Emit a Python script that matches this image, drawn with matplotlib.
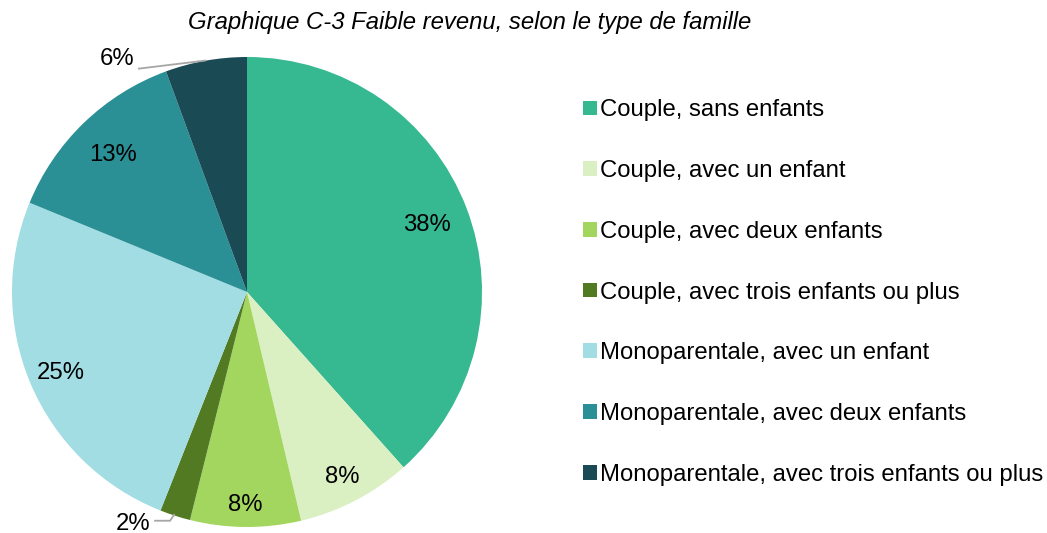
import numpy as np
import matplotlib
matplotlib.use("Agg")
import matplotlib.pyplot as plt
from matplotlib.patches import Patch

plt.rcParams['font.family'] = ['Liberation Sans', 'DejaVu Sans']

title = "Graphique C-3 Faible revenu, selon le type de famille"
categories = ["Couple, sans enfants", "Couple, avec un enfant", "Couple, avec deux enfants",
              "Couple, avec trois enfants ou plus", "Monoparentale, avec un enfant",
              "Monoparentale, avec deux enfants", "Monoparentale, avec trois enfants ou plus"]
values = [38.4, 7.9, 7.6, 2.1, 25.2, 13.2, 5.6]
colors = ["#36B890", "#DAF0C2", "#A3D65F", "#527A22", "#A1DDE3", "#2A9096", "#1A4B54"]

W, H = 1047, 533
fig = plt.figure(figsize=(W/100, H/100), dpi=100)
ax = fig.add_axes([0, 0, 1, 1])

cx, cy, R = 247, H - 292, 235
wedges, _ = ax.pie(values, colors=colors, startangle=90, counterclock=False,
                   radius=R, center=(cx, cy), frame=True,
                   wedgeprops=dict(linewidth=0))
ax.set_xlim(0, W)
ax.set_ylim(0, H)
ax.set_aspect('equal')
ax.axis('off')

fs = 17.2
total = sum(values)
start = 90.0
label_r = [0.82, 0.88, 0.9, None, 0.86, 0.82, None]
for i, v in enumerate(values):
    mid = start - v / total * 360 / 2
    start -= v / total * 360
    a = np.deg2rad(mid)
    txt = f"{round(v):.0f}%"
    if label_r[i] is not None:
        ax.text(cx + label_r[i] * R * np.cos(a), cy - 2 + label_r[i] * R * np.sin(a), txt,
                ha='center', va='center', fontsize=fs, color='#000000')
    else:
        ex, ey = cx + R * np.cos(a), cy + R * np.sin(a)
        if i == 3:
            tx, ty = ex - 42, ey - 8
            ax.plot([ex - 1, ex - 5, ex - 20], [ey + 1, ey - 5, ey - 5],
                    color='#A6A6A6', lw=1.3, solid_joinstyle='miter')
        else:
            tx, ty = ex - 89, ey + 2
            ax.plot([ex - 67, ex - 1], [ey - 8, ey], color='#A6A6A6', lw=1.3)
        ax.text(tx, ty, txt, ha='center', va='center', fontsize=fs, color='#000000')

fig.text(470 / W, 1 - 22 / H, title, ha='center', va='center', fontsize=17.2, style='italic')

handles = [Patch(facecolor=c, edgecolor='none') for c in colors]
fig.legend(handles, categories, loc='center left', bbox_to_anchor=(583 / W, 1 - 292.5 / H),
           frameon=False, fontsize=fs, handlelength=0.57, handleheight=0.57,
           handletextpad=0.15, labelspacing=1.62, borderpad=0, borderaxespad=0)

fig.savefig("out.png", dpi=100)
